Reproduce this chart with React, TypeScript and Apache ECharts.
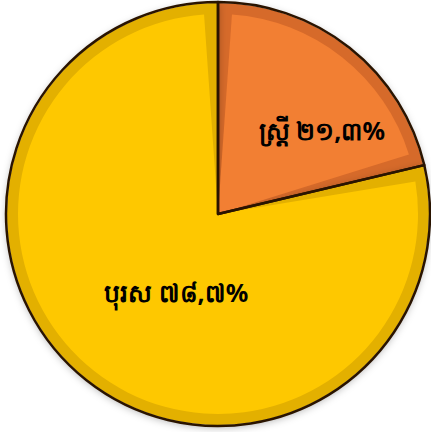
import React, { useEffect, useRef } from "react";
import * as echarts from "echarts";

const categories = ["ស្ត្រី", "បុរស"];
const values = [21.3, 78.7];
const valueLabels = ["២១,៣%", "៧៨,៧%"];
const lightColors = ["#F27F33", "#FEC800"];
const darkColors = ["#D66A2A", "#E3B000"];
const labelOffsets = [[40, -3], [22, -3]];

export default function App() {
  const ref = useRef<HTMLDivElement>(null);
  useEffect(() => {
    if (!ref.current) return;
    const chart = echarts.init(ref.current, null, { renderer: "svg" });
    const center = [218, 214];
    const R = 212;
    const fillData = categories.map((name, i) => ({
      name,
      value: values[i],
      itemStyle: { color: lightColors[i] },
      label: {
        show: true,
        position: "inside",
        formatter: name + " " + valueLabels[i],
        offset: labelOffsets[i],
        color: "#000",
        fontSize: 25,
        fontWeight: "bold",
        fontFamily: "'Noto Sans', 'DejaVu Sans', sans-serif",
      },
    }));
    const outlineData = categories.map((name, i) => ({ name, value: values[i] }));
    chart.setOption({
      animation: false,
      backgroundColor: "#ffffff",
      series: [
        {
          type: "pie",
          center,
          radius: [0, R - 1],
          startAngle: 90,
          clockwise: true,
          silent: true,
          label: { show: false },
          labelLine: { show: false },
          data: outlineData.map((d, i) => ({
            ...d,
            itemStyle: { color: darkColors[i], shadowBlur: 8, shadowColor: "rgba(0,0,0,0.35)", shadowOffsetY: 2 },
          })),
        },
        {
          type: "pie",
          center,
          radius: [0, R - 12],
          startAngle: 90,
          clockwise: true,
          padAngle: 8,
          silent: true,
          labelLine: { show: false },
          data: fillData,
          z: 3,
        },
        {
          type: "pie",
          center,
          radius: [0, R],
          startAngle: 90,
          clockwise: true,
          silent: true,
          label: { show: false },
          labelLine: { show: false },
          data: outlineData.map((d) => ({
            ...d,
            itemStyle: { color: "rgba(0,0,0,0)", borderColor: "#2a1400", borderWidth: 2.5 },
          })),
          z: 4,
        },
      ],
    });
    return () => chart.dispose();
  }, []);
  return <div ref={ref} style={{ position: "fixed", left: 0, top: 0, width: 431, height: 432 }} />;
}
